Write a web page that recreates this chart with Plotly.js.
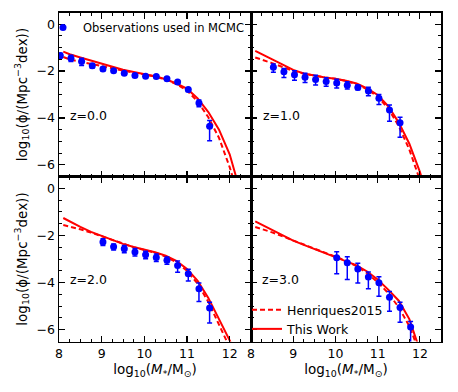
<!DOCTYPE html>
<html>
<head>
<meta charset="utf-8">
<script src="https://cdn.plot.ly/plotly-3.0.1.min.js"></script>
<style>html,body{margin:0;padding:0;background:#fff;}#chart{width:458px;height:392px;}</style>
</head>
<body>
<div id="chart"></div>
<script>
// ---- Observations (log10 stellar mass, log10 phi, asymmetric errors) ----
const obsMass_z0 = [8.03, 8.28, 8.53, 8.78, 9.03, 9.28, 9.53, 9.78, 10.03, 10.28, 10.53, 10.78, 11.03, 11.28, 11.53];
const obsPhi_z0  = [-1.34, -1.45, -1.59, -1.77, -1.91, -1.99, -2.09, -2.19, -2.22, -2.23, -2.33, -2.47, -2.79, -3.36, -4.35];
const obsErrUp_z0 = [0.10, 0.12, 0.14, 0.08, 0.07, 0.06, 0.06, 0.06, 0.06, 0.06, 0.06, 0.06, 0.08, 0.12, 0.24];
const obsErrLo_z0 = [0.10, 0.14, 0.17, 0.10, 0.08, 0.06, 0.06, 0.06, 0.06, 0.06, 0.06, 0.06, 0.08, 0.16, 0.62];

const obsMass_z1 = [8.53, 8.78, 9.03, 9.28, 9.53, 9.78, 10.03, 10.28, 10.53, 10.78, 11.03, 11.28, 11.53];
const obsPhi_z1  = [-1.84, -2.03, -2.16, -2.26, -2.36, -2.45, -2.51, -2.60, -2.70, -2.85, -3.16, -3.66, -4.21];
const obsErrUp_z1 = [0.14, 0.14, 0.17, 0.17, 0.18, 0.16, 0.16, 0.14, 0.10, 0.16, 0.16, 0.21, 0.24];
const obsErrLo_z1 = [0.21, 0.24, 0.23, 0.23, 0.23, 0.20, 0.21, 0.17, 0.10, 0.20, 0.27, 0.48, 0.61];

const obsMass_z2 = [9.03, 9.28, 9.53, 9.78, 10.03, 10.28, 10.53, 10.78, 11.03, 11.28, 11.53];
const obsPhi_z2  = [-2.28, -2.48, -2.57, -2.70, -2.82, -2.94, -3.05, -3.28, -3.63, -4.26, -5.08];
const obsErrUp_z2 = [0.14, 0.12, 0.14, 0.15, 0.15, 0.15, 0.14, 0.20, 0.20, 0.24, 0.24];
const obsErrLo_z2 = [0.15, 0.14, 0.16, 0.17, 0.17, 0.17, 0.17, 0.28, 0.30, 0.54, 0.64];

const obsMass_z3 = [10.03, 10.28, 10.53, 10.78, 11.03, 11.28, 11.53, 11.78];
const obsPhi_z3  = [-2.95, -3.16, -3.42, -3.76, -4.01, -4.62, -5.06, -5.89];
const obsErrUp_z3 = [0.26, 0.26, 0.24, 0.21, 0.26, 0.24, 0.23, 0.24];
const obsErrLo_z3 = [0.68, 0.71, 0.60, 0.50, 0.57, 0.60, 0.62, 0.70];

// ---- Model curves ----
const modelMass = [8.1, 8.25, 8.5, 8.75, 9.0, 9.25, 9.5, 9.75, 10.0, 10.25, 10.5, 10.75, 11.0, 11.25, 11.5, 11.75, 12.0, 12.25];
const thisWork_z0   = [-1.17, -1.28, -1.42, -1.55, -1.69, -1.82, -1.94, -2.04, -2.13, -2.22, -2.35, -2.53, -2.75, -3.17, -3.75, -4.50, -5.55, -7.15];
const henriques_z0  = [-1.40, -1.50, -1.60, -1.70, -1.80, -1.90, -1.99, -2.07, -2.15, -2.23, -2.36, -2.55, -2.83, -3.30, -3.97, -4.85, -6.10, -7.60];
const thisWork_z1   = [-1.14, -1.27, -1.50, -1.73, -1.95, -2.10, -2.20, -2.27, -2.33, -2.41, -2.53, -2.74, -3.02, -3.50, -4.20, -5.10, -6.30, -7.80];
const henriques_z1  = [-1.42, -1.50, -1.66, -1.83, -1.99, -2.11, -2.20, -2.27, -2.33, -2.42, -2.56, -2.78, -3.08, -3.60, -4.35, -5.35, -6.65, -8.00];
const thisWork_z2   = [-1.26, -1.41, -1.64, -1.85, -2.03, -2.20, -2.36, -2.49, -2.60, -2.71, -2.86, -3.08, -3.42, -3.93, -4.65, -5.52, -6.45, -7.50];
const henriques_z2  = [-1.56, -1.62, -1.74, -1.88, -2.04, -2.21, -2.37, -2.50, -2.62, -2.73, -2.90, -3.14, -3.50, -4.05, -4.82, -5.75, -6.75, -7.90];
const thisWork_z3   = [-1.40, -1.54, -1.77, -1.99, -2.22, -2.40, -2.57, -2.73, -2.90, -3.07, -3.27, -3.53, -3.87, -4.30, -4.77, -5.55, -6.80, -8.20];
const henriques_z3  = [-1.64, -1.72, -1.87, -2.04, -2.22, -2.40, -2.57, -2.73, -2.90, -3.08, -3.30, -3.60, -3.98, -4.45, -5.05, -5.85, -7.00, -8.30];

const zLabels = ['z=0.0', 'z=1.0', 'z=2.0', 'z=3.0'];
const obsName = 'Observations used in MCMC';
const henriquesName = 'Henriques2015';
const thisWorkName = 'This Work';
const xTitle = 'log<sub>10</sub>(<i>M</i><sub>*</sub>/M<sub>⊙</sub>)';
const yTitle = 'log<sub>10</sub>(ϕ/(Mpc<sup>−3</sup>dex))';

const FONT = 'DejaVu Sans, Liberation Sans, sans-serif';
const RED = '#ff0000', BLUE = '#0000ff';

const panels = [
  {xa:'x',  ya:'y',  m:obsMass_z0, p:obsPhi_z0, up:obsErrUp_z0, lo:obsErrLo_z0, tw:thisWork_z0, he:henriques_z0},
  {xa:'x2', ya:'y2', m:obsMass_z1, p:obsPhi_z1, up:obsErrUp_z1, lo:obsErrLo_z1, tw:thisWork_z1, he:henriques_z1},
  {xa:'x3', ya:'y3', m:obsMass_z2, p:obsPhi_z2, up:obsErrUp_z2, lo:obsErrLo_z2, tw:thisWork_z2, he:henriques_z2},
  {xa:'x4', ya:'y4', m:obsMass_z3, p:obsPhi_z3, up:obsErrUp_z3, lo:obsErrLo_z3, tw:thisWork_z3, he:henriques_z3}
];

const traces = [];
panels.forEach((pn, i) => {
  traces.push({
    type:'scatter', mode:'lines', x:modelMass, y:pn.he, xaxis:pn.xa, yaxis:pn.ya,
    name:henriquesName, line:{color:RED, width:2, dash:'5px,3px'},
    showlegend:i===3, legend:'legend2', hoverinfo:'skip'
  });
  traces.push({
    type:'scatter', mode:'lines', x:modelMass, y:pn.tw, xaxis:pn.xa, yaxis:pn.ya,
    name:thisWorkName, line:{color:RED, width:2},
    showlegend:i===3, legend:'legend2', hoverinfo:'skip'
  });
});
panels.forEach((pn, i) => {
  traces.push({
    type:'scatter', mode:'markers', x:pn.m, y:pn.p, xaxis:pn.xa, yaxis:pn.ya,
    name:obsName, marker:{color:BLUE, size:7},
    error_y:{type:'data', symmetric:false, array:pn.up, arrayminus:pn.lo, color:BLUE, thickness:1.5, width:2.5},
    showlegend:i===0, legend:'legend', hoverinfo:'skip'
  });
});

function xax(domain, anchor, labels, title) {
  const a = {
    domain:domain, anchor:anchor, range:[8, 12.5], tick0:8, dtick:1,
    showline:true, linecolor:'black', linewidth:1.5, mirror:'allticks',
    ticks:'inside', ticklen:6, tickwidth:1.2, tickcolor:'black',
    showgrid:false, zeroline:false, showticklabels:labels,
    tickfont:{family:FONT, size:12.5, color:'black'},
    minor:{ticks:'inside', ticklen:3, tickwidth:1, tickcolor:'black', dtick:0.25, tick0:8, showgrid:false}
  };
  if (title) a.title = {text:title, font:{family:FONT, size:13.5, color:'black'}, standoff:4};
  return a;
}
function yax(domain, anchor, labels, title) {
  const a = {
    domain:domain, anchor:anchor, range:[-6.5, 0.5], tick0:0, dtick:2,
    showline:true, linecolor:'black', linewidth:1.5, mirror:'allticks',
    ticks:'inside', ticklen:6, tickwidth:1.2, tickcolor:'black',
    showgrid:false, zeroline:false, showticklabels:labels,
    tickfont:{family:FONT, size:12.5, color:'black'},
    minor:{ticks:'inside', ticklen:3, tickwidth:1, tickcolor:'black', dtick:0.5, tick0:0, showgrid:false}
  };
  if (title) a.title = {text:title, font:{family:FONT, size:13.5, color:'black'}, standoff:6};
  return a;
}

const W = 458, H = 392;
const xL = [59/W, 251/W], xR = [251/W, 441/W];
const yT = [1 - 176.5/H, 1 - 12.5/H], yB = [1 - 341.5/H, 1 - 176.5/H];

const annFont = {family:FONT, size:12.5, color:'black'};
const annotations = [
  {xref:'x',  yref:'y',  x:8.2,  y:-3.9,  text:zLabels[0]},
  {xref:'x2', yref:'y2', x:8.23, y:-3.9,  text:zLabels[1]},
  {xref:'x3', yref:'y3', x:8.2,  y:-3.85, text:zLabels[2]},
  {xref:'x4', yref:'y4', x:8.22, y:-3.87, text:zLabels[3]}
].map(a => Object.assign(a, {showarrow:false, xanchor:'left', yanchor:'middle', font:annFont}));

const layout = {
  width:W, height:H,
  margin:{l:0, r:0, t:0, b:0},
  paper_bgcolor:'white', plot_bgcolor:'white',
  font:{family:FONT, color:'black'},
  xaxis:  xax(xL, 'y',  false, null),
  yaxis:  yax(yT, 'x',  true,  yTitle),
  xaxis2: xax(xR, 'y2', false, null),
  yaxis2: yax(yT, 'x2', false, null),
  xaxis3: xax(xL, 'y3', true,  xTitle),
  yaxis3: yax(yB, 'x3', true,  yTitle),
  xaxis4: xax(xR, 'y4', true,  xTitle),
  yaxis4: yax(yB, 'x4', false, null),
  legend: {x:43/W, xanchor:'left', y:1 - 13/H, yanchor:'top', bgcolor:'rgba(0,0,0,0)',
           font:{family:FONT, size:11.5, color:'black'}, itemwidth:30, borderwidth:0},
  legend2:{x:247/W, xanchor:'left', y:1 - 295/H, yanchor:'top', bgcolor:'rgba(0,0,0,0)',
           font:{family:FONT, size:12.5, color:'black'}, itemwidth:30, borderwidth:0, tracegroupgap:0},
  annotations:annotations,
  showlegend:true
};

Plotly.newPlot('chart', traces, layout, {displayModeBar:false, staticPlot:true});
</script>
</body>
</html>
